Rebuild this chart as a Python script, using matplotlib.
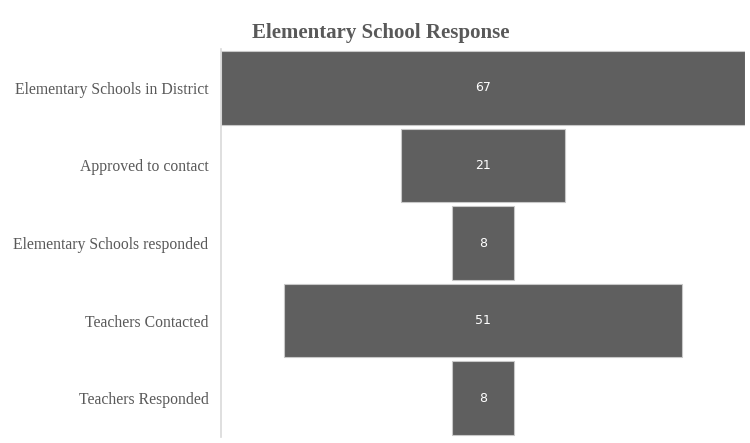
import matplotlib.pyplot as plt

stages = ["Elementary Schools in District", "Approved to contact",
          "Elementary Schools responded", "Teachers Contacted", "Teachers Responded"]
counts = [67, 21, 8, 51, 8]

fig = plt.figure(figsize=(7.5, 4.43), dpi=100)
ax = fig.add_axes([221 / 750, 1 - 437 / 443, 524 / 750, 388 / 443])

pos = list(range(len(stages)))
lefts = [-c / 2 for c in counts]
ax.barh(pos, counts, left=lefts, height=0.95, color="#5f5f5f", edgecolor="#c8c8c8", linewidth=0.8)

for p, c in zip(pos, counts):
    ax.text(0, p, str(c), ha="center", va="center", color="white", fontsize=9, family="DejaVu Sans")

ax.set_xlim(-33.5, 33.5)
ax.set_ylim(len(stages) - 0.5, -0.5)
ax.set_yticks(pos)
ax.set_yticklabels(stages, family="Liberation Serif", fontsize=11.3, color="#595959")
ax.tick_params(axis="y", length=0, pad=9)
ax.set_xticks([])
for s in ["top", "right", "bottom"]:
    ax.spines[s].set_visible(False)
ax.spines["left"].set_color("#d9d9d9")
ax.spines["left"].set_linewidth(1.2)

fig.text(381 / 750, 1 - 33 / 443, "Elementary School Response", ha="center", va="center",
         family="Liberation Serif", fontsize=15, fontweight="bold", color="#595959")

fig.savefig("out.png", dpi=100)
